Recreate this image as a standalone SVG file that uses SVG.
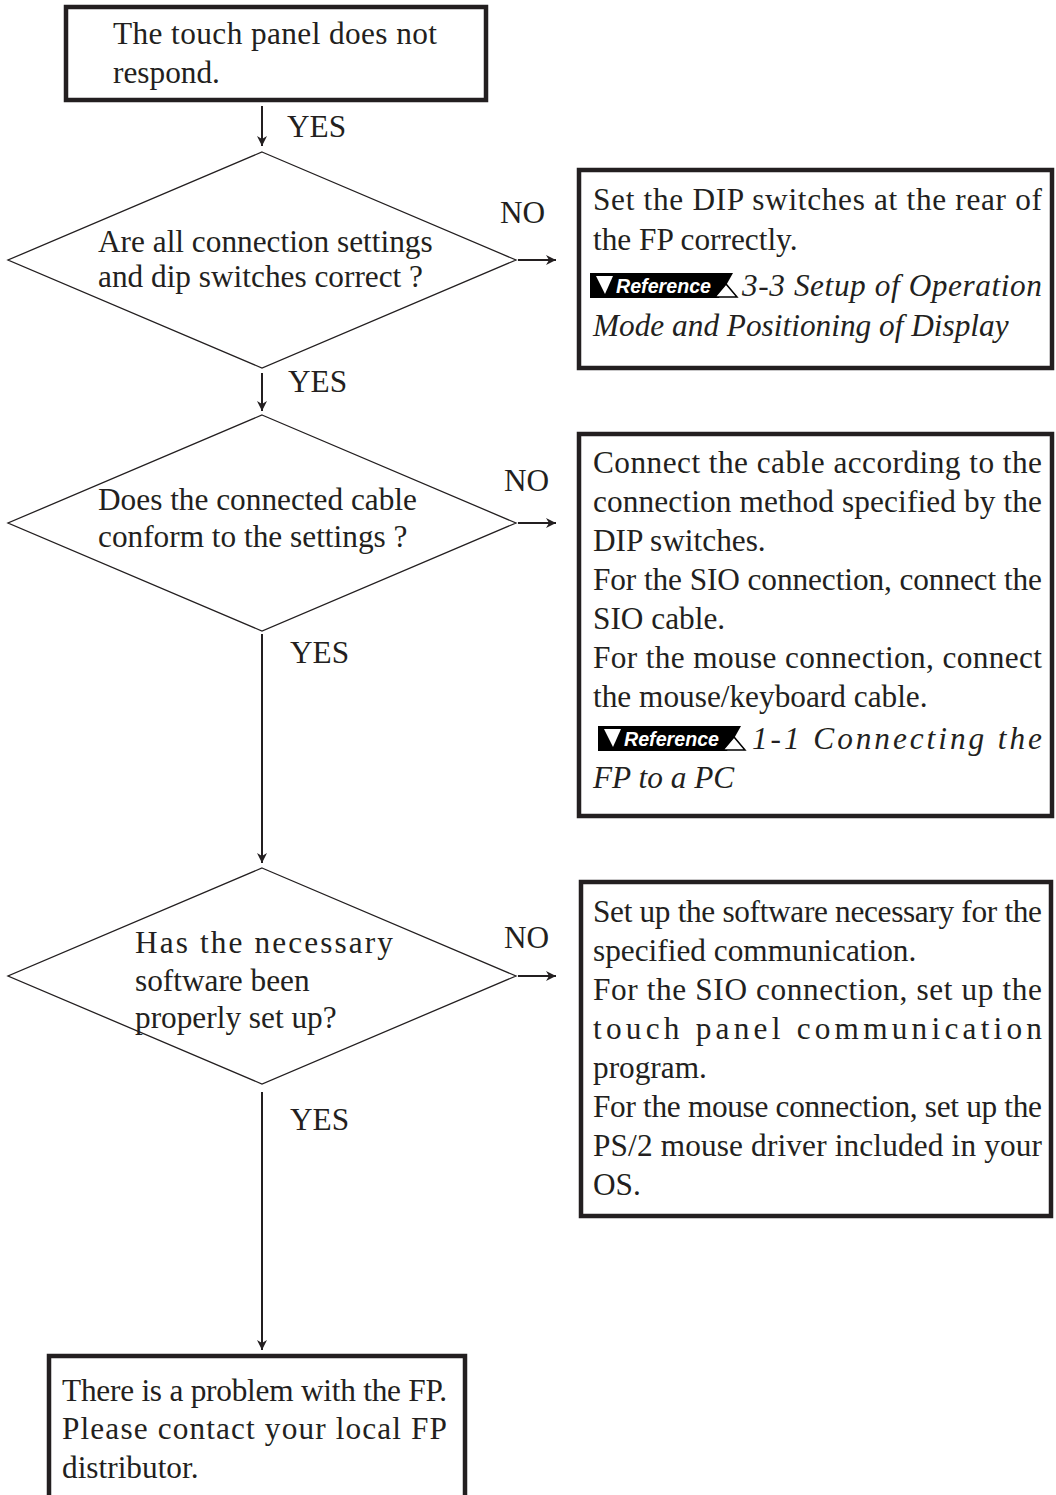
<svg xmlns="http://www.w3.org/2000/svg" width="1056" height="1495" viewBox="0 0 1056 1495">
<style>
.t{font-family:"Liberation Serif","Times New Roman",serif;font-size:31.3px;fill:#231f20}
.i{font-style:italic}
.box{fill:#fff;stroke:#231f20;stroke-width:4.5}
.dia{fill:#fff;stroke:#231f20;stroke-width:1.3}
.con{stroke:#231f20;stroke-width:2;fill:none}
.ref{font-family:"Liberation Sans",Arial,sans-serif;font-size:21px;font-weight:bold;font-style:italic;fill:#fff}
</style>
<defs>
<marker id="ah" viewBox="0 0 10 10" refX="10" refY="5" markerWidth="11" markerHeight="10" markerUnits="userSpaceOnUse" orient="auto">
<path d="M0,0 L10,5 L0,10 L3,5 z" fill="#231f20"/>
</marker>
<g id="badge">
<polygon points="0,0 143,0 129,25 0,25" fill="#000"/>
<polygon points="6,3 23,3 15,21" fill="#fff"/>
<polygon points="125,24 147,24 136,11" fill="#fff" stroke="#000" stroke-width="1.5"/>
<text class="ref" x="26" y="20" textLength="95" lengthAdjust="spacingAndGlyphs">Reference</text>
</g>
</defs>

<g id="connectors">
<line class="con" x1="262" y1="106" x2="262" y2="146" marker-end="url(#ah)"/>
<line class="con" x1="262" y1="373" x2="262" y2="411" marker-end="url(#ah)"/>
<line class="con" x1="262" y1="634" x2="262" y2="863" marker-end="url(#ah)"/>
<line class="con" x1="262" y1="1092" x2="262" y2="1350" marker-end="url(#ah)"/>
<line class="con" x1="518" y1="260" x2="556" y2="260" marker-end="url(#ah)"/>
<line class="con" x1="518" y1="523" x2="556" y2="523" marker-end="url(#ah)"/>
<line class="con" x1="518" y1="976" x2="556" y2="976" marker-end="url(#ah)"/>
<text class="t" x="287" y="137">YES</text>
<text class="t" x="288" y="392">YES</text>
<text class="t" x="290" y="663">YES</text>
<text class="t" x="290" y="1130">YES</text>
<text class="t" x="500" y="223">NO</text>
<text class="t" x="504" y="491">NO</text>
<text class="t" x="504" y="948">NO</text>
</g>

<g id="start">
<rect class="box" x="66" y="7" width="420" height="93"/>
<text class="t" x="113" y="44" textLength="324" lengthAdjust="spacing">The touch panel does not</text>
<text class="t" x="113" y="83">respond.</text>
</g>

<g id="q1">
<polygon class="dia" points="262,152 516,260 262,368 8,260"/>
<text class="t" x="98" y="252">Are all connection settings</text>
<text class="t" x="98" y="287">and dip switches correct ?</text>
</g>

<g id="a1">
<rect class="box" x="579" y="170" width="473" height="198"/>
<text class="t" x="593" y="210" textLength="449" lengthAdjust="spacing">Set the DIP switches at the rear of</text>
<text class="t" x="593" y="250">the FP correctly.</text>
<use href="#badge" x="590" y="273"/>
<text class="t i" x="742" y="296" textLength="300" lengthAdjust="spacing">3-3 Setup of Operation</text>
<text class="t i" x="593" y="336">Mode and Positioning of Display</text>
</g>

<g id="q2">
<polygon class="dia" points="262,415 516,523 262,631 8,523"/>
<text class="t" x="98" y="510">Does the connected cable</text>
<text class="t" x="98" y="547">conform to the settings ?</text>
</g>

<g id="a2">
<rect class="box" x="579" y="434" width="473" height="382"/>
<text class="t" x="593" y="473" textLength="449" lengthAdjust="spacing">Connect the cable according to the</text>
<text class="t" x="593" y="512" textLength="449" lengthAdjust="spacing">connection method specified by the</text>
<text class="t" x="593" y="551">DIP switches.</text>
<text class="t" x="593" y="590" textLength="449" lengthAdjust="spacing">For the SIO connection, connect the</text>
<text class="t" x="593" y="629">SIO cable.</text>
<text class="t" x="593" y="668" textLength="449" lengthAdjust="spacing">For the mouse connection, connect</text>
<text class="t" x="593" y="707">the mouse/keyboard cable.</text>
<use href="#badge" x="598" y="726"/>
<text class="t i" x="752" y="749" textLength="290" lengthAdjust="spacing">1-1 Connecting the</text>
<text class="t i" x="593" y="788">FP to a PC</text>
</g>

<g id="q3">
<polygon class="dia" points="262,868 516,976 262,1084 8,976"/>
<text class="t" x="135" y="953" textLength="258" lengthAdjust="spacing">Has the necessary</text>
<text class="t" x="135" y="991">software been</text>
<text class="t" x="135" y="1028">properly set up?</text>
</g>

<g id="a3">
<rect class="box" x="581" y="882" width="470" height="334"/>
<text class="t" x="593" y="922" textLength="449" lengthAdjust="spacing">Set up the software necessary for the</text>
<text class="t" x="593" y="961">specified communication.</text>
<text class="t" x="593" y="1000" textLength="449" lengthAdjust="spacing">For the SIO connection, set up the</text>
<text class="t" x="593" y="1039" textLength="449" lengthAdjust="spacing">touch panel communication</text>
<text class="t" x="593" y="1078">program.</text>
<text class="t" x="593" y="1117" textLength="449" lengthAdjust="spacing">For the mouse connection, set up the</text>
<text class="t" x="593" y="1156" textLength="449" lengthAdjust="spacing">PS/2 mouse driver included in your</text>
<text class="t" x="593" y="1195">OS.</text>
</g>

<g id="end">
<rect class="box" x="49" y="1356" width="416" height="160"/>
<text class="t" x="62" y="1401" textLength="385" lengthAdjust="spacing">There is a problem with the FP.</text>
<text class="t" x="62" y="1439" textLength="385" lengthAdjust="spacing">Please contact your local FP</text>
<text class="t" x="62" y="1478">distributor.</text>
</g>
</svg>
